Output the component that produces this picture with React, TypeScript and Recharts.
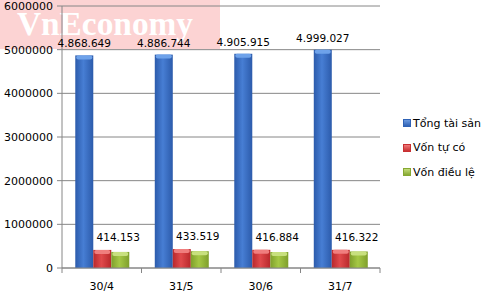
import React from 'react';
import { BarChart, Bar, XAxis, YAxis, CartesianGrid, LabelList } from 'recharts';

const categories = ['30/4', '31/5', '30/6', '31/7'];
const tongTaiSan = [4868649, 4886744, 4905915, 4999027];
const vonTuCo = [414153, 433519, 416884, 416322];
const vonDieuLe = [368000, 384000, 366000, 378000];
const yTicks = [0, 1000000, 2000000, 3000000, 4000000, 5000000, 6000000];
const seriesNames = ['Tổng tài sản', 'Vốn tự có', 'Vốn điều lệ'];

const data = categories.map((c, i) => ({
  name: c,
  tts: tongTaiSan[i],
  vtc: vonTuCo[i],
  vdl: vonDieuLe[i],
}));

const fmt = (v: number) => v.toLocaleString('en-US').replace(/,/g, '.');

const FONT = '"DejaVu Sans", Verdana, sans-serif';
const GRID = '#868686';

const makeShape = (id: string, cap: string) => (p: any) => {
  const { x, y, width, height } = p;
  if (!height || height <= 0) return <g />;
  return (
    <g>
      <rect x={x} y={y} width={width} height={height} fill={`url(#${id})`} />
      <rect x={x + 1} y={y} width={width - 2} height={Math.min(4, height)} rx={2} fill={cap} />
    </g>
  );
};

const XTick = (props: any) => {
  const { x, y, payload, index } = props;
  const off = payload && payload.offset ? payload.offset : 0;
  const axisY = y - 14;
  return (
    <g>
      <line x1={x + off} x2={x + off} y1={axisY} y2={axisY + 5} stroke={GRID} />
      {index === 0 && <line x1={x - off} x2={x - off} y1={axisY} y2={axisY + 5} stroke={GRID} />}
      <text x={x} y={y} dy="0.71em" textAnchor="middle" fontSize={11} fontFamily={FONT} fill="#000">
        {payload.value}
      </text>
    </g>
  );
};

const legendColors = [
  ['#2f62b5', '#6b9ae0'],
  ['#c83032', '#ef7a7a'],
  ['#86a832', '#c4dd7a'],
];

export default function App() {
  return (
    <div style={{ position: 'absolute', left: 0, top: 0, width: 484, height: 294, background: '#fff' }}>
      <svg width={484} height={294} style={{ position: 'absolute', left: 0, top: 0 }}>
        <rect x={0} y={0} width={220} height={49} fill="#fcd3d3" />
        <text
          x={17}
          y={35}
          fontFamily='"Liberation Serif", "Times New Roman", serif'
          fontWeight={700}
          fontSize={33}
          textLength={176}
          lengthAdjust="spacingAndGlyphs"
          fill="#ffffff"
        >
          VnEconomy
        </text>
      </svg>
      <BarChart
        width={484}
        height={294}
        data={data}
        margin={{ top: 6, right: 104, bottom: 0, left: 0 }}
        barCategoryGap="16.7%"
        barGap={0}
      >
        <defs>
          <linearGradient id="gBlue" x1="0" y1="0" x2="1" y2="0">
            <stop offset="0%" stopColor="#2c5bab" />
            <stop offset="45%" stopColor="#477ed4" />
            <stop offset="100%" stopColor="#2c5bab" />
          </linearGradient>
          <linearGradient id="gRed" x1="0" y1="0" x2="1" y2="0">
            <stop offset="0%" stopColor="#b8282b" />
            <stop offset="45%" stopColor="#e04a4c" />
            <stop offset="100%" stopColor="#b8282b" />
          </linearGradient>
          <linearGradient id="gGreen" x1="0" y1="0" x2="1" y2="0">
            <stop offset="0%" stopColor="#7f9f2c" />
            <stop offset="45%" stopColor="#a5c845" />
            <stop offset="100%" stopColor="#7f9f2c" />
          </linearGradient>
        </defs>
        <CartesianGrid vertical={false} stroke={GRID} strokeDasharray="" />
        <XAxis
          dataKey="name"
          height={26}
          axisLine={{ stroke: GRID }}
          tickLine={false}
          tickSize={5}
          tickMargin={9}
          tick={<XTick />}
          interval={0}
        />
        <YAxis
          width={62}
          domain={[0, 6000000]}
          ticks={yTicks}
          interval={0}
          axisLine={{ stroke: GRID }}
          tickLine={{ stroke: GRID }}
          tickSize={5}
          tickMargin={4}
          tick={{ fontSize: 11, fontFamily: FONT, fill: '#000' }}
          tickFormatter={(v: number) => String(v)}
        />
        <Bar dataKey="tts" name={seriesNames[0]} isAnimationActive={false} shape={makeShape('gBlue', '#6ea2ea')}>
          <LabelList
            dataKey="tts"
            position="top"
            offset={8}
            formatter={(v: any) => fmt(Number(v))}
            style={{ fontSize: 10.5, fontFamily: FONT, fill: '#000' }}
          />
        </Bar>
        <Bar dataKey="vtc" name={seriesNames[1]} isAnimationActive={false} shape={makeShape('gRed', '#f07e7e')}>
          <LabelList
            dataKey="vtc"
            position="top"
            offset={9}
            dx={16}
            formatter={(v: any) => fmt(Number(v))}
            style={{ fontSize: 10.5, fontFamily: FONT, fill: '#000' }}
          />
        </Bar>
        <Bar dataKey="vdl" name={seriesNames[2]} isAnimationActive={false} shape={makeShape('gGreen', '#c8e07e')} />
      </BarChart>

      <div style={{ position: 'absolute', left: 403, top: 111, fontFamily: FONT, fontSize: 11, color: '#000' }}>
        {seriesNames.map((n, i) => (
          <div key={n} style={{ display: 'flex', alignItems: 'center', height: 24.5, whiteSpace: 'nowrap' }}>
            <span
              style={{
                display: 'inline-block',
                width: 6,
                height: 6,
                marginRight: 2,
                background: `linear-gradient(${legendColors[i][1]}, ${legendColors[i][0]})`,
                border: `0.5px solid ${legendColors[i][0]}`,
              }}
            />
            <span>{n}</span>
          </div>
        ))}
      </div>
    </div>
  );
}
